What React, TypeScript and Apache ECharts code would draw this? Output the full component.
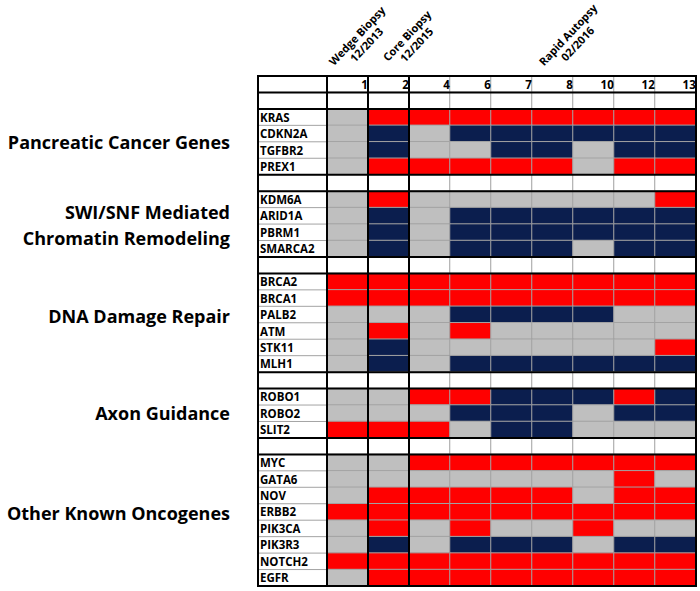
import { useEffect, useRef } from 'react';
import * as echarts from 'echarts';

// ---------- data ----------
const columns = ['1', '2', '4', '6', '7', '8', '10', '12', '13'];

const sampleTitles = ['Wedge Biopsy\n12/2013', 'Core Biopsy\n12/2015', 'Rapid Autopsy\n02/2016'];
const sampleTitleColumn = [0, 1, 5];

const groupNames = [
  'Pancreatic Cancer Genes',
  'SWI/SNF Mediated\nChromatin Remodeling',
  'DNA Damage Repair',
  'Axon Guidance',
  'Other Known Oncogenes',
];

const pancreaticGenes = ['KRAS', 'CDKN2A', 'TGFBR2', 'PREX1'];
const swiSnfGenes = ['KDM6A', 'ARID1A', 'PBRM1', 'SMARCA2'];
const dnaRepairGenes = ['BRCA2', 'BRCA1', 'PALB2', 'ATM', 'STK11', 'MLH1'];
const axonGenes = ['ROBO1', 'ROBO2', 'SLIT2'];
const oncogenes = ['MYC', 'GATA6', 'NOV', 'ERBB2', 'PIK3CA', 'PIK3R3', 'NOTCH2', 'EGFR'];

// G = gray (no alteration), R = red, N = navy ; one letter per column
const pancreaticStatus = ['GRRRRRRRR', 'GNGNNNNNN', 'GNGGNNGNN', 'GRRRRRGRR'];
const swiSnfStatus = ['GRGGGGGGR', 'GNGNNNNNN', 'GNGNNNNNN', 'GNGNNNGNN'];
const dnaRepairStatus = ['RRRRRRRRR', 'RRRRRRRRR', 'GGGNNNNGG', 'GRGRGGGGG', 'GNGGGGGGR', 'GNGNNNNNN'];
const axonStatus = ['GGRRNNNRN', 'GGGNNNGNN', 'RRRGNNGGG'];
const oncogeneStatus = ['GGRRRRRRR', 'GGGGGGGRG', 'GRRRRRGRR', 'RRRRRRRRR', 'GRGRGGRGG', 'GNGNNNGNN', 'RRRRRRRRR', 'GRRRRRRRR'];

const groupGenes = [pancreaticGenes, swiSnfGenes, dnaRepairGenes, axonGenes, oncogenes];
const groupStatus = [pancreaticStatus, swiSnfStatus, dnaRepairStatus, axonStatus, oncogeneStatus];

// ---------- styles ----------
const RED = '#FF0000';
const NAVY = '#0B1E4E';
const GRAY = '#BFBFBF';
const LINE_GRAY = '#A3A3A3';
const FONT = '"Open Sans", Lato, sans-serif';
const LABEL_COL_W = 69;
const TITLE_OFFSETS = [[14, 2], [23, 2], [20, 1]];
const GROUP_OFFSETS = [0, 1, -7, 0, -7];

const codeValue: Record<string, number> = { G: 0, R: 1, N: 2 };

export default function App() {
  const ref = useRef<HTMLDivElement>(null);

  useEffect(() => {
    if (!ref.current) return;
    const chart = echarts.init(ref.current, null, { renderer: 'svg' });

    // build rows
    const rowKeys: string[] = ['hdr'];
    const rowCodes: (string | null)[] = [null];
    const gapRows: number[] = [];
    const groupRowRange: [number, number][] = [];
    groupGenes.forEach((genes, g) => {
      gapRows.push(rowKeys.length);
      rowKeys.push('gap' + g);
      rowCodes.push(null);
      const start = rowKeys.length;
      genes.forEach((gene, i) => {
        rowKeys.push(gene);
        rowCodes.push(groupStatus[g][i]);
      });
      groupRowRange.push([start, rowKeys.length - 1]);
    });

    const data: any[] = [];
    rowKeys.forEach((key, r) => {
      columns.forEach((col, c) => {
        const code = rowCodes[r];
        if (code) {
          data.push([c, r, codeValue[code[c]]]);
        } else if (key === 'hdr') {
          data.push({
            value: [c, r, 3],
            label: {
              show: true,
              formatter: col,
              position: 'insideRight',
              distance: 1,
              color: '#000',
              fontWeight: 'bold',
              fontSize: 11.5,
              fontFamily: FONT,
            },
          });
        } else {
          data.push([c, r, 3]);
        }
      });
    });

    chart.setOption({
      animation: false,
      grid: { left: 327, right: 4, top: 76, bottom: 5, containLabel: false },
      xAxis: {
        type: 'category',
        data: columns,
        axisLine: { show: false },
        axisTick: { show: false },
        axisLabel: { show: false },
        splitLine: { show: false },
      },
      yAxis: {
        type: 'category',
        data: rowKeys,
        inverse: true,
        axisLine: { show: false },
        axisTick: { show: false },
        axisLabel: {
          interval: 0,
          align: 'left',
          margin: LABEL_COL_W - 2,
          color: '#000',
          fontWeight: 'bold',
          fontSize: 11.5,
          fontFamily: FONT,
          formatter: (v: string) => (v === 'hdr' || v.startsWith('gap') ? '' : v),
        },
      },
      visualMap: {
        type: 'piecewise',
        show: false,
        dimension: 2,
        pieces: [
          { value: 0, color: GRAY },
          { value: 1, color: RED },
          { value: 2, color: NAVY },
          { value: 3, color: '#FFFFFF' },
        ],
      },
      series: [
        {
          type: 'heatmap',
          data,
          itemStyle: { borderColor: LINE_GRAY, borderWidth: 1 },
          emphasis: { disabled: true },
        },
      ],
    });

    // compute geometry from the axes
    const p0 = chart.convertToPixel({ gridIndex: 0 }, [0, 0]) as number[];
    const p1 = chart.convertToPixel({ gridIndex: 0 }, [1, 1]) as number[];
    const cw = p1[0] - p0[0];
    const ch = p1[1] - p0[1];
    const colLeft = (c: number) => p0[0] + (c - 0.5) * cw;
    const rowTop = (r: number) => p0[1] + (r - 0.5) * ch;
    const nRows = rowKeys.length;
    const gridL = colLeft(0);
    const gridR = colLeft(columns.length);
    const tableL = gridL - LABEL_COL_W;
    const tableT = rowTop(0);
    const tableB = rowTop(nRows);

    const graphics: any[] = [];
    // thin gray row lines in label column
    for (let r = 1; r < nRows; r++) {
      const y = rowTop(r);
      graphics.push({
        type: 'line',
        shape: { x1: tableL, y1: y, x2: gridL, y2: y },
        style: { stroke: LINE_GRAY, lineWidth: 1 },
        z: 10,
      });
    }
    const thick = (x1: number, y1: number, x2: number, y2: number) =>
      graphics.push({
        type: 'line',
        shape: { x1, y1, x2, y2 },
        style: { stroke: '#000', lineWidth: 2, lineCap: 'square' },
        z: 20,
      });
    // thick horizontal lines
    thick(tableL, tableT, gridR, tableT);
    thick(tableL, tableB, gridR, tableB);
    gapRows.forEach((r) => {
      thick(tableL, rowTop(r), gridR, rowTop(r));
      thick(tableL, rowTop(r + 1), gridR, rowTop(r + 1));
    });
    // thick vertical lines
    [tableL, gridL, colLeft(1), colLeft(2), gridR].forEach((x) => thick(x, tableT, x, tableB));

    // rotated sample titles
    sampleTitles.forEach((t, i) => {
      const cx = colLeft(sampleTitleColumn[i]) + cw / 2 + TITLE_OFFSETS[i][0];
      graphics.push({
        type: 'text',
        x: cx,
        y: 38 + TITLE_OFFSETS[i][1],
        rotation: Math.PI * 0.26,
        style: {
          text: t,
          fill: '#000',
          font: `bold 11px ${FONT}`,
          align: 'center',
          verticalAlign: 'middle',
          lineHeight: 13,
        },
      });
    });

    // group labels
    groupNames.forEach((name, g) => {
      const [s, e] = groupRowRange[g];
      const cy = (rowTop(s) + rowTop(e + 1)) / 2 + GROUP_OFFSETS[g];
      graphics.push({
        type: 'text',
        x: tableL - 28,
        y: cy,
        style: {
          text: name,
          fill: '#000',
          font: `bold 18px ${FONT}`,
          align: 'right',
          verticalAlign: 'middle',
          lineHeight: 26,
        },
      });
    });

    chart.setOption({ graphic: graphics });

    return () => chart.dispose();
  }, []);

  return (
    <div
      ref={ref}
      style={{ position: 'fixed', left: 0, top: 0, width: 700, height: 591, background: '#fff' }}
    />
  );
}
